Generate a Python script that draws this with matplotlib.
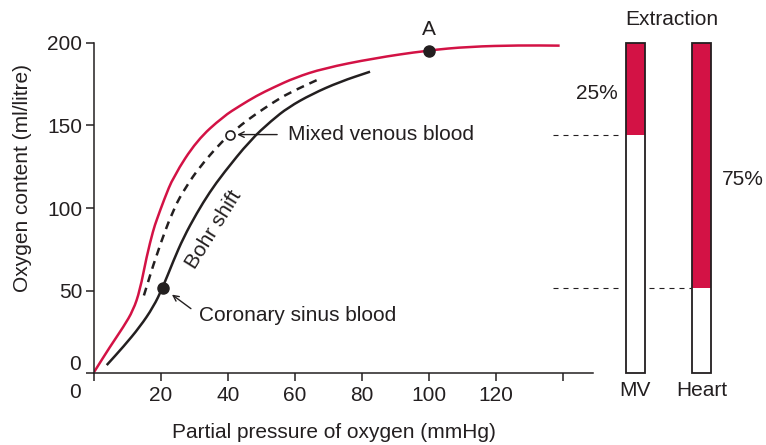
import matplotlib
matplotlib.use("Agg")
import matplotlib.pyplot as plt
from matplotlib.path import Path
from matplotlib.patches import PathPatch

# curves (PO2 in mmHg, O2 content in ml/litre)
red_x = [0, 4.8, 8.8, 11.7, 13.7, 15.7, 17.7, 18.7, 20.9, 23.7, 30.7, 38.6, 43.6,
         48.5, 53.5, 60, 68.5, 83.4, 99.5, 112, 127, 139]
red_y = [0.5, 16, 28, 38, 50, 70.5, 86.7, 92.7, 105, 119, 141, 155.5, 162,
         168, 173, 179, 184.6, 190.7, 195.5, 197.8, 198.6, 198.4]

dash_x = [14.9, 18.7, 23.7, 27.5, 31.6, 37.6, 40.6, 44, 48, 53.5, 58, 66.5]
dash_y = [47, 72, 99.5, 113, 125, 139, 144.5, 150.5, 156.5, 164, 169.5, 177.5]

bohr_x = [3.8, 8.8, 13.7, 17.7, 20.5, 23.7, 26.7, 30.7, 34.5, 38.6, 46.6, 53, 58, 65, 73.4, 82.4]
bohr_y = [4.8, 16, 28, 40, 51.7, 68, 82, 97, 109.5, 121, 141, 153, 161, 169, 176.5, 182.6]

# marked points
point_a = (100, 195)
mixed_venous = (40.6, 144.5)
coronary_sinus = (20.5, 51.5)

# extraction bars
bar_names = ["MV", "Heart"]
bar_top = 200
bar_levels = [mixed_venous[1], coronary_sinus[1]]
bar_pcts = ["25%", "75%"]

x_ticks = [0, 20, 40, 60, 80, 100, 120, 140]
y_ticks = [0, 50, 100, 150, 200]

RED = "#d31245"
INK = "#231f20"
FS = 15

plt.rcParams["font.family"] = ["Liberation Sans", "DejaVu Sans"]
plt.rcParams["text.color"] = INK


def smooth_line(ax, xs, ys, **kw):
    # quadratic segments through the midpoints, so the read points join smoothly
    pts = list(zip(xs, ys))
    verts = [pts[0]]
    codes = [Path.MOVETO]
    for i in range(1, len(pts) - 1):
        mid = ((pts[i][0] + pts[i + 1][0]) / 2, (pts[i][1] + pts[i + 1][1]) / 2)
        if i == 1:
            m0 = ((pts[0][0] + pts[1][0]) / 2, (pts[0][1] + pts[1][1]) / 2)
            verts.append(m0)
            codes.append(Path.LINETO)
        verts += [pts[i], mid]
        codes += [Path.CURVE3, Path.CURVE3]
    verts.append(pts[-1])
    codes.append(Path.LINETO)
    ax.add_patch(PathPatch(Path(verts, codes), fill=False, **kw))


W, H = 766, 445
fig = plt.figure(figsize=(W / 100, H / 100), dpi=100)
px = 3.35  # pixels per mmHg
ax = fig.add_axes([94 / W, (H - 373) / H, (740 - 94) / W, 330 / H])
ax.set_xlim(0, (740 - 94) / px)
ax.set_ylim(0, 200)

smooth_line(ax, red_x, red_y, edgecolor=RED, lw=1.8, capstyle="butt")
smooth_line(ax, dash_x, dash_y, edgecolor=INK, lw=1.8, linestyle=(0, (3.2, 2.4)))
smooth_line(ax, bohr_x, bohr_y, edgecolor=INK, lw=1.8)

ax.plot(*point_a, "o", color=INK, ms=8, clip_on=False)
ax.plot(*coronary_sinus, "o", color=INK, ms=8)
ax.plot(*mixed_venous, "o", mfc="white", mec=INK, mew=1.2, ms=6.5)

ax.text(point_a[0], 208, "A", ha="center", va="center", fontsize=FS)
ax.annotate("", xy=(mixed_venous[0] + 1.3, mixed_venous[1]),
            xytext=(55.5, mixed_venous[1]),
            arrowprops=dict(arrowstyle="->", color=INK, lw=1.0))
ax.text(57.9, mixed_venous[1], "Mixed venous blood", ha="left", va="center", fontsize=FS)
ax.annotate("", xy=(22.6, 48.5), xytext=(29.6, 38),
            arrowprops=dict(arrowstyle="->", color=INK, lw=1.0))
ax.text(31.3, 35, "Coronary sinus blood", ha="left", va="center", fontsize=FS)
ax.text(35.8, 87, "Bohr shift", rotation=58, ha="center", va="center", fontsize=FS)

# extraction bars
bar_x = [161.6, 181.3]
bw = 5.7
for bx, lvl in zip(bar_x, bar_levels):
    ax.bar(bx, lvl, width=bw, bottom=0, color="white", edgecolor="none", clip_on=False)
    ax.bar(bx, bar_top - lvl, width=bw, bottom=lvl, color=RED, edgecolor="none", clip_on=False)
    ax.bar(bx, bar_top, width=bw, bottom=0, fill=False, edgecolor=INK, lw=1.3, clip_on=False)
for name, bx in zip(bar_names, bar_x):
    ax.text(bx, -10.5, name, ha="center", va="center", fontsize=FS)
ax.text(172.5, 214.5, "Extraction", ha="center", va="center", fontsize=FS)
ax.text(150.1, 169.5, bar_pcts[0], ha="center", va="center", fontsize=FS)
ax.text(193.7, 117, bar_pcts[1], ha="center", va="center", fontsize=FS)

ax.plot([137, 157.7], [bar_levels[0]] * 2, color=INK, lw=0.8, ls=(0, (4.5, 4.5)))
ax.plot([137, 157.7], [bar_levels[1]] * 2, color=INK, lw=0.8, ls=(0, (4.5, 4.5)))
ax.plot([165.6, 178.2], [bar_levels[1]] * 2, color=INK, lw=0.8, ls=(0, (4.5, 4.5)))

# axes styling
for s in ["top", "right"]:
    ax.spines[s].set_visible(False)
for s in ["left", "bottom"]:
    ax.spines[s].set_linewidth(1.1)
    ax.spines[s].set_color(INK)
ax.spines["bottom"].set_bounds(0, 149)
ax.set_xticks(x_ticks)
ax.set_xticklabels([""] + [str(v) for v in x_ticks[1:-1]] + [""])
ax.set_yticks(y_ticks)
ax.set_yticklabels([""] + [str(v) for v in y_ticks[1:]])
ax.tick_params(axis="both", length=5.5, width=1.1, color=INK, labelsize=FS, labelcolor=INK)
ax.tick_params(axis="x", pad=4)
ax.tick_params(axis="y", pad=3)

fig.text(75 / W, 1 - 364 / H, "0", ha="center", va="center", fontsize=FS)
fig.text(75 / W, 1 - 393 / H, "0", ha="center", va="center", fontsize=FS)
fig.text(334 / W, 1 - 432 / H, "Partial pressure of oxygen (mmHg)", ha="center", va="center", fontsize=FS)
fig.text(23 / W, 1 - 178 / H, "Oxygen content (ml/litre)", rotation=90, ha="center", va="center", fontsize=FS)

fig.savefig("out.png", dpi=100)
